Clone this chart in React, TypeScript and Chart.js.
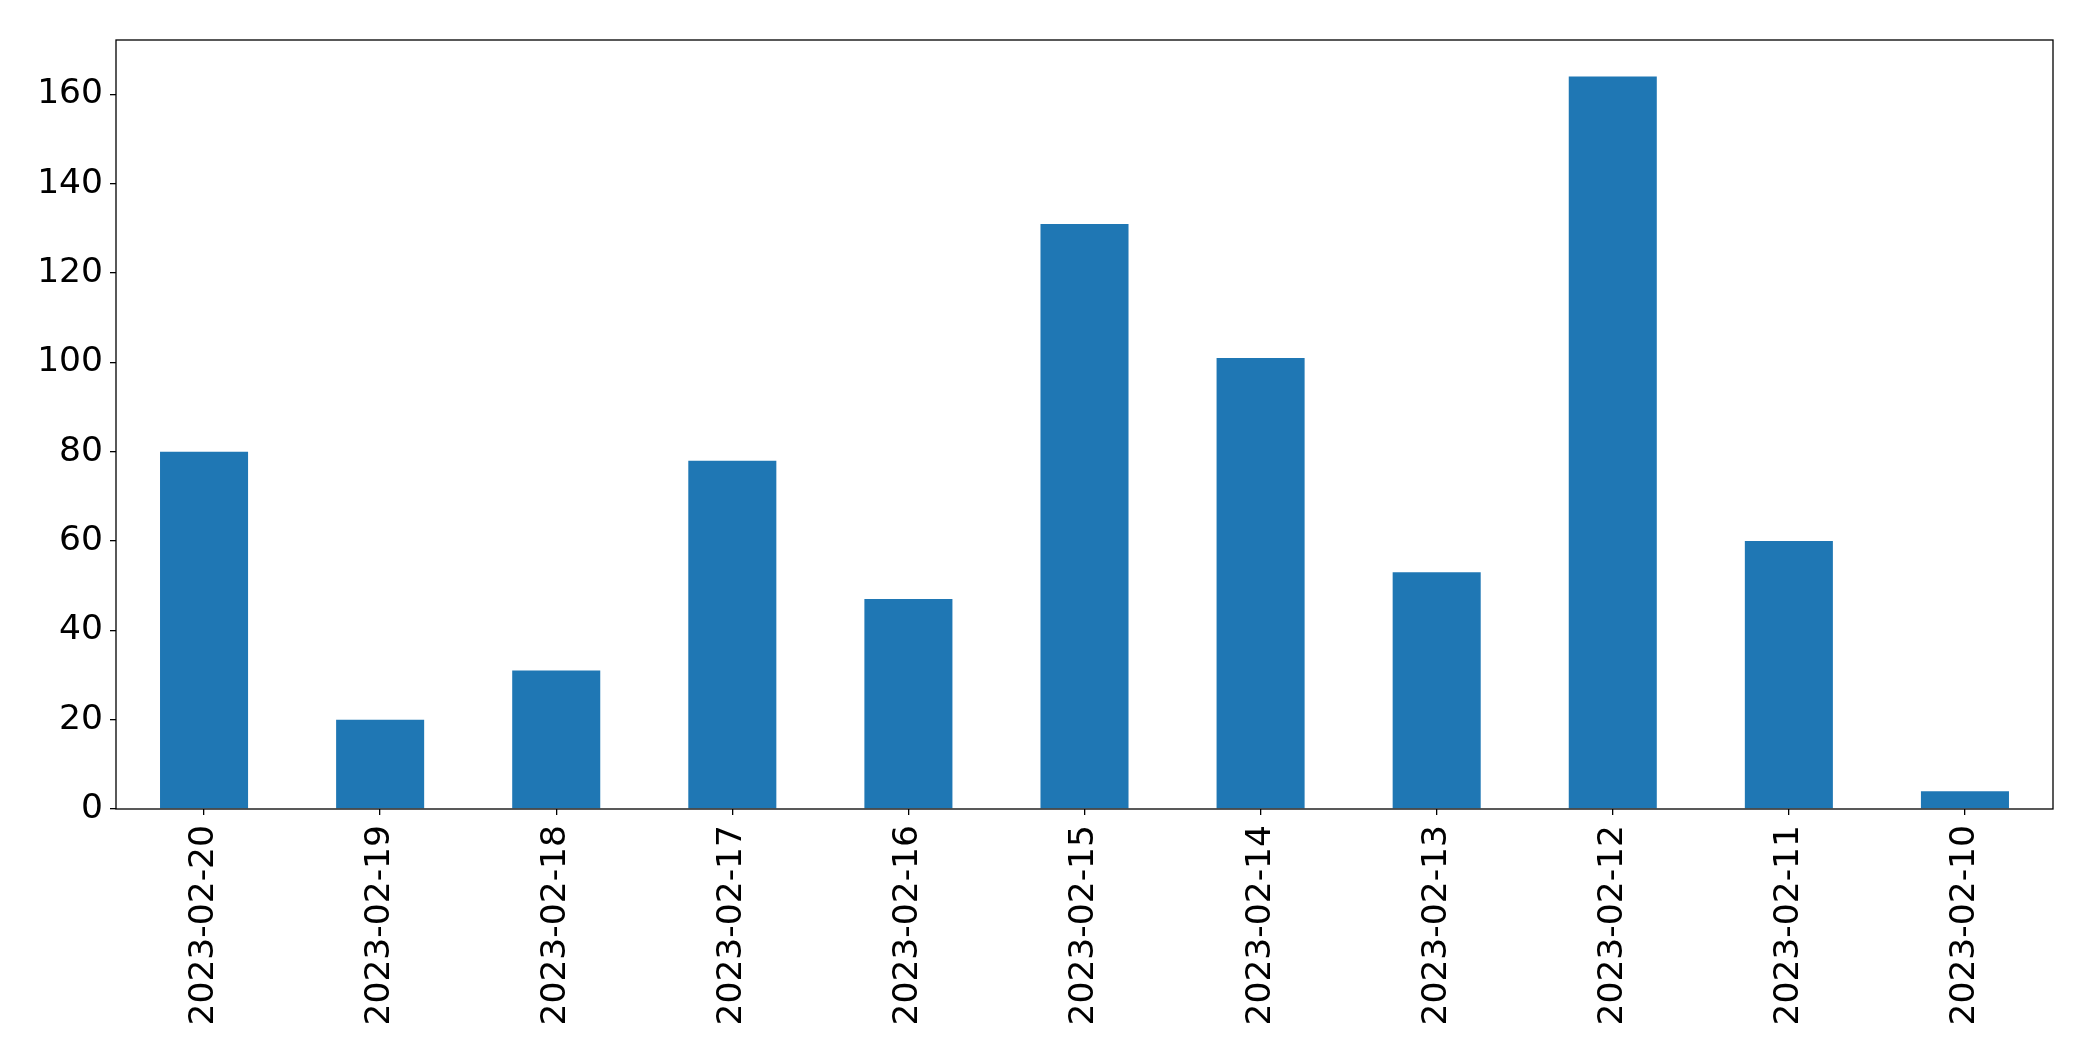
import React, { useEffect, useRef } from "react";
import { Chart, registerables } from "chart.js";

Chart.register(...registerables);

const categories = [
  "2023-02-20", "2023-02-19", "2023-02-18", "2023-02-17", "2023-02-16", "2023-02-15",
  "2023-02-14", "2023-02-13", "2023-02-12", "2023-02-11", "2023-02-10",
];
const counts = [80, 20, 31, 78, 47, 131, 101, 53, 164, 60, 4];
const yMax = 172.2;
const yStep = 20;

const framePlugin = {
  id: "frame",
  afterDraw(chart: any) {
    const { ctx, chartArea } = chart;
    ctx.save();
    ctx.strokeStyle = "#000";
    ctx.lineWidth = 1.3;
    ctx.strokeRect(chartArea.left, chartArea.top, chartArea.right - chartArea.left, chartArea.bottom - chartArea.top);
    ctx.restore();
  },
};

export default function App() {
  const ref = useRef<HTMLCanvasElement>(null);
  useEffect(() => {
    document.body.style.margin = "0";
    const font = { family: "'DejaVu Sans', sans-serif", size: 34.5 };
    const chart = new Chart(ref.current!, {
      type: "bar",
      data: {
        labels: categories,
        datasets: [
          {
            data: counts,
            backgroundColor: "#1f77b4",
            borderWidth: 0,
            categoryPercentage: 1,
            barPercentage: 0.5,
          },
        ],
      },
      options: {
        animation: false,
        responsive: false,
        maintainAspectRatio: false,
        devicePixelRatio: 1,
        layout: { padding: { top: 40, right: 40, left: 0, bottom: 0 } },
        plugins: { legend: { display: false }, tooltip: { enabled: false } },
        scales: {
          x: {
            offset: true,
            grid: { display: true, offset: false, drawOnChartArea: false, drawTicks: true, tickLength: 6, color: "#000", lineWidth: 1.3 },
            border: { display: false },
            ticks: { color: "#000", font, maxRotation: 90, minRotation: 90, padding: 10, autoSkip: false },
            afterFit: (s: any) => { s.height = 252; },
          },
          y: {
            min: 0,
            max: yMax,
            grid: { display: true, drawOnChartArea: false, drawTicks: true, tickLength: 6, color: "#000", lineWidth: 1.3 },
            border: { display: false },
            ticks: { color: "#000", font, stepSize: yStep, padding: 7 },
            afterBuildTicks: (s: any) => { s.ticks = s.ticks.filter((t: any) => t.value % yStep === 0); },
            afterFit: (s: any) => { s.width = 116; },
          },
        },
      },
      plugins: [framePlugin],
    });
    return () => chart.destroy();
  }, []);
  return (
    <div style={{ position: "fixed", left: 0, top: 0, width: 2093, height: 1061, background: "#fff" }}>
      <canvas ref={ref} width={2093} height={1061} style={{ width: 2093, height: 1061 }} />
    </div>
  );
}
